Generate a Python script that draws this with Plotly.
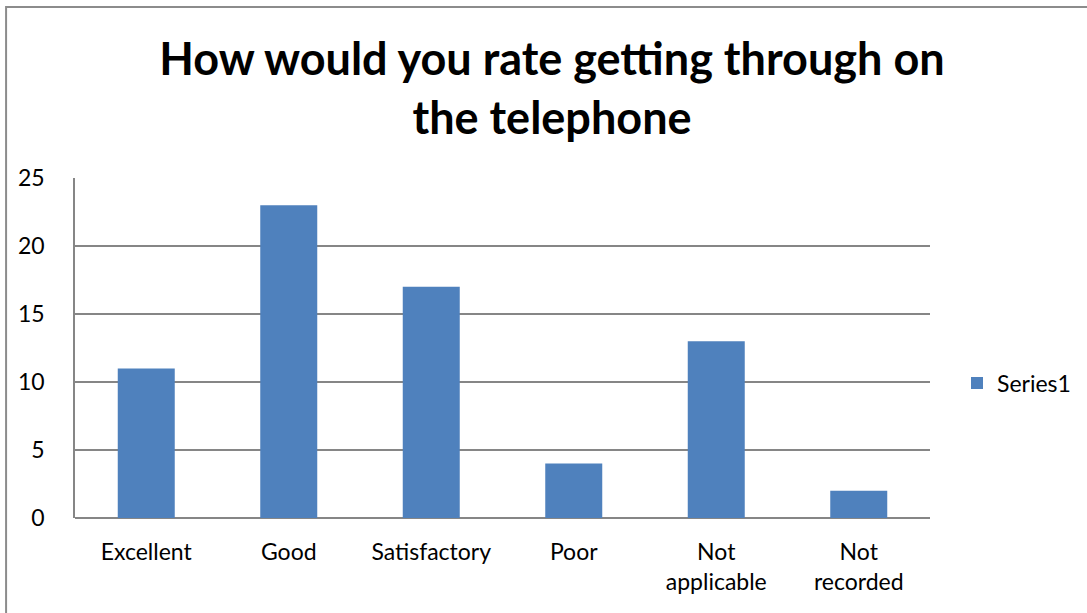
import plotly.graph_objects as go

categories = ["Excellent", "Good", "Satisfactory", "Poor", "Not<br>applicable", "Not<br>recorded"]
values = [11, 23, 17, 4, 13, 2]
y_ticks = [0, 5, 10, 15, 20, 25]

W, H = 1087, 613
L, R, T, B = 75, 156, 178, 95
pw, ph = W - L - R, H - T - B

FONT = "Lato"
GRID = "#868686"
TICK_SIZE = 23

fig = go.Figure(
    go.Bar(
        x=categories,
        y=values,
        name="Series1",
        marker=dict(color="#4F81BD", line=dict(width=0)),
        showlegend=True,
    )
)

fig.update_layout(
    width=W,
    height=H,
    margin=dict(l=L, r=R, t=T, b=B),
    paper_bgcolor="white",
    plot_bgcolor="white",
    bargap=0.6,
    font=dict(family=FONT, size=TICK_SIZE, color="black"),
    title=dict(
        text="How would you rate getting through on<br>the telephone",
        font=dict(family=FONT, size=45, color="black", weight="bold"),
        x=552 / W,
        xanchor="center",
        y=1 - 75 / H,
        yanchor="middle",
    ),
    legend=dict(
        x=(957 - L) / pw,
        y=1 - (383 - T) / ph,
        xanchor="left",
        yanchor="middle",
        font=dict(family=FONT, size=TICK_SIZE),
        itemwidth=30,
        bgcolor="rgba(0,0,0,0)",
    ),
    xaxis=dict(
        showgrid=False,
        showline=False,
        ticks="",
        tickfont=dict(family=FONT, size=TICK_SIZE),
        ticklabelstandoff=18,
    ),
    yaxis=dict(
        range=[0, 25],
        tickvals=y_ticks,
        showgrid=True,
        gridcolor=GRID,
        gridwidth=1.5,
        showline=True,
        linecolor=GRID,
        linewidth=1.5,
        ticks="",
        zeroline=True,
        zerolinecolor=GRID,
        zerolinewidth=1.5,
        tickfont=dict(family=FONT, size=TICK_SIZE),
        ticklabelstandoff=24,
    ),
    shapes=[
        dict(
            type="rect",
            xref="paper",
            yref="paper",
            x0=(6 - L) / pw,
            x1=(W + 10 - L) / pw,
            y0=1 - (H + 10 - T) / ph,
            y1=1 - (7 - T) / ph,
            line=dict(color="#8c8c8c", width=2),
            fillcolor="rgba(0,0,0,0)",
            layer="below",
        )
    ],
)

fig.write_html("out.html")
